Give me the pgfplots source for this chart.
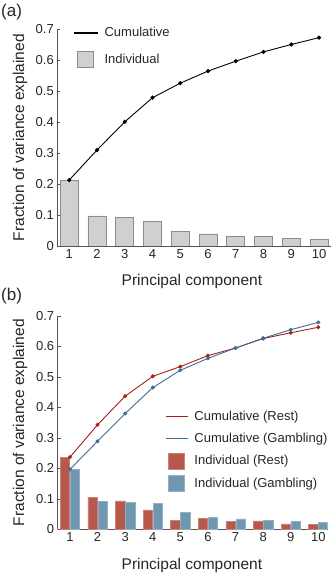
\documentclass[border=0pt]{standalone}
\usepackage{pgfplots}
\pgfplotsset{compat=1.18}
\usepackage{fontspec}
\setmainfont{Liberation Sans}
\definecolor{axgray}{HTML}{555555}
\definecolor{txtgray}{HTML}{262626}
\definecolor{barfill}{HTML}{D0D0D0}
\definecolor{bardraw}{HTML}{8C8C8C}
\definecolor{restbar}{HTML}{B7584C}
\definecolor{gambbar}{HTML}{7096B0}
\definecolor{restline}{HTML}{A8201A}
\definecolor{gambline}{HTML}{3C6E96}
\pgfplotsset{
  linelegA/.style={legend image code/.code={\path[draw=none,fill=none] (0pt,-8pt) rectangle (24pt,8pt); \draw[##1, line width=1.6pt] (0pt,0pt) -- (24pt,0pt);}},
  linelegB/.style={legend image code/.code={\path[draw=none,fill=none] (0pt,-8pt) rectangle (22pt,8pt); \draw[##1, line width=1.6pt] (0pt,0pt) -- (22pt,0pt);}},
  barlegA/.style={legend image code/.code={\path[draw=none,fill=none] (0pt,-8pt) rectangle (24pt,8pt); \draw[##1] (4pt,-8pt) rectangle (20pt,8pt);}},
  barlegB/.style={legend image code/.code={\path[draw=none,fill=none] (0pt,-8pt) rectangle (22pt,8pt); \draw[##1] (3pt,-8pt) rectangle (19pt,8pt);}},
  mystyle/.style={
    scale only axis,
    axis x line*=bottom, axis y line*=left,
    axis line style={axgray, line width=0.6pt, -},
    tick align=inside, major tick length=3pt,
    tick style={axgray, line width=0.6pt},
    ymin=0, ymax=0.7,
    xtick={1,2,3,4,5,6,7,8,9,10},
    ytick={0,0.1,0.2,0.3,0.4,0.5,0.6,0.7},
    ticklabel style={font=\fontsize{13}{15}\selectfont, text=txtgray},
    /pgf/number format/assume math mode=true,
    label style={font=\fontsize{15.5}{18}\selectfont, text=txtgray},
    legend cell align=left,
    legend style={draw=none, fill=none, inner sep=0pt, outer sep=0pt,
      font=\fontsize{13}{15}\selectfont, text=txtgray, column sep=6pt,
      nodes={inner sep=0pt}},
  },
}
\begin{document}
\begin{tikzpicture}
\useasboundingbox (0pt,0pt) rectangle (332pt,576pt);
\node[anchor=base west, inner sep=0pt, font=\fontsize{17}{20}\selectfont, text=txtgray] at (1pt,559pt) {(a)};
\node[anchor=base west, inner sep=0pt, font=\fontsize{17}{20}\selectfont, text=txtgray] at (1pt,275.2pt) {(b)};
% ---------- top panel ----------
\begin{axis}[mystyle,
  at={(57.3pt,330pt)}, anchor=south west,
  width=273.7pt, height=216.7pt,
  xmin=0.57, xmax=10.43,
  xlabel={Principal component},
  ylabel={Fraction of variance explained},
  xlabel style={at={(axis description cs:0.492,-0.1615)}, anchor=center, inner sep=0pt},
  ylabel style={at={(axis description cs:-0.136,0.5)}, anchor=center, inner sep=0pt},
  legend style={at={(axis description cs:0.0574,1.0198)}, anchor=north west, row sep=10pt},
]
\addplot[ybar, bar width=0.65, bar shift=0pt, fill=barfill, draw=bardraw, line width=0.8pt, forget plot]
  coordinates {(1,0.213) (2,0.097) (3,0.091) (4,0.078) (5,0.047) (6,0.039) (7,0.032) (8,0.030) (9,0.024) (10,0.022)};
\addplot[black, line width=0.9pt, mark=*, mark size=1.6pt, linelegA]
  coordinates {(1,0.213) (2,0.310) (3,0.401) (4,0.479) (5,0.526) (6,0.565) (7,0.597) (8,0.627) (9,0.651) (10,0.673)};
\addlegendentry{Cumulative}
\addlegendimage{barlegA, fill=barfill, draw=bardraw, line width=0.8pt}
\addlegendentry{Individual}
\end{axis}
% ---------- bottom panel ----------
\begin{axis}[mystyle,
  at={(57.7pt,46.7pt)}, anchor=south west,
  width=270pt, height=213.3pt,
  xmin=0.555, xmax=10.34,
  xlabel={Principal component},
  ylabel={Fraction of variance explained},
  xlabel style={at={(axis description cs:0.497,-0.172)}, anchor=center, inner sep=0pt},
  ylabel style={at={(axis description cs:-0.1396,0.5)}, anchor=center, inner sep=0pt},
  legend style={at={(axis description cs:0.397,0.566)}, anchor=north west, row sep=6pt},
]
\addplot[ybar, bar width=0.34, bar shift=0pt, fill=restbar, draw=restbar!75!white, line width=0.5pt, forget plot]
  coordinates {(0.82,0.237) (1.82,0.105) (2.82,0.093) (3.82,0.064) (4.82,0.030) (5.82,0.035) (6.82,0.026) (7.82,0.028) (8.82,0.018) (9.82,0.016)};
\addplot[ybar, bar width=0.34, bar shift=0pt, fill=gambbar, draw=gambbar!75!white, line width=0.5pt, forget plot]
  coordinates {(1.18,0.197) (2.18,0.092) (3.18,0.089) (4.18,0.085) (5.18,0.055) (6.18,0.040) (7.18,0.034) (8.18,0.029) (9.18,0.027) (10.18,0.023)};
\addplot[restline, line width=0.9pt, mark=*, mark size=1.5pt, linelegB]
  coordinates {(1,0.237) (2,0.343) (3,0.437) (4,0.502) (5,0.534) (6,0.570) (7,0.595) (8,0.626) (9,0.645) (10,0.663)};
\addlegendentry{Cumulative (Rest)}
\addplot[gambline, line width=0.9pt, mark=*, mark size=1.5pt, linelegB]
  coordinates {(1,0.197) (2,0.289) (3,0.380) (4,0.465) (5,0.522) (6,0.561) (7,0.595) (8,0.627) (9,0.655) (10,0.679)};
\addlegendentry{Cumulative (Gambling)}
\addlegendimage{barlegB, fill=restbar, draw=restbar!75!white, line width=0.5pt}
\addlegendentry{Individual (Rest)}
\addlegendimage{barlegB, fill=gambbar, draw=gambbar!75!white, line width=0.5pt}
\addlegendentry{Individual (Gambling)}
\end{axis}
\end{tikzpicture}
\end{document}
